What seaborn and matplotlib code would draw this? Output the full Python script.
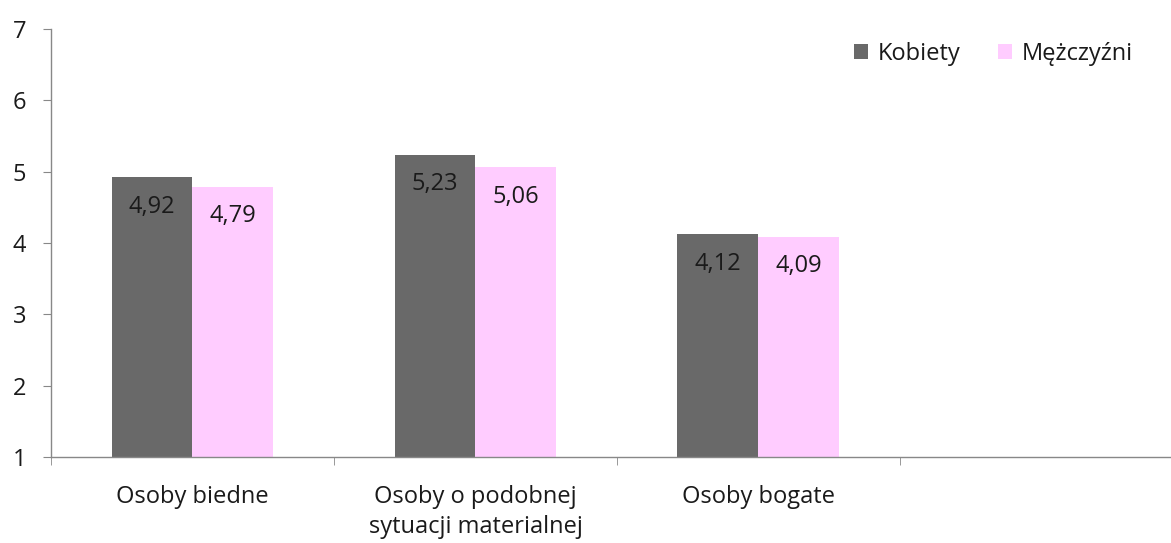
import matplotlib
matplotlib.use("Agg")
import matplotlib.pyplot as plt
import seaborn as sns
import pandas as pd

categories = ["Osoby biedne", "Osoby o podobnej\nsytuacji materialnej", "Osoby bogate"]
kobiety = [4.92, 5.23, 4.12]
mezczyzni = [4.79, 5.06, 4.09]
series_names = ["Kobiety", "Mężczyźni"]
colors = ["#696969", "#FFCCFF"]

df = pd.DataFrame({
    "kategoria": categories * 2,
    "wartosc": kobiety + mezczyzni,
    "plec": [series_names[0]] * 3 + [series_names[1]] * 3,
})

sns.set_style("white")
plt.rcParams["font.family"] = ["Open Sans", "DejaVu Sans"]
fs = 17

fig = plt.figure(figsize=(11.71, 5.43), dpi=100)
ax = fig.add_axes([51 / 1171, 86 / 543, 1 - 51 / 1171, (457 - 29) / 543])

sns.barplot(data=df, x="kategoria", y="wartosc", hue="plec", palette=colors,
            width=0.572, ax=ax, saturation=1, legend=True, linewidth=0)

ax.set_ylim(1, 7)
ax.set_yticks(range(1, 8))
ax.set_xlim(-0.5, 3.458)
ax.set_xlabel("")
ax.set_ylabel("")

for c in ax.containers:
    for patch in c:
        h = patch.get_height()
        ax.annotate(f"{h:.2f}".replace(".", ","),
                    (patch.get_x() + patch.get_width() / 2, h),
                    xytext=(0, -21), textcoords="offset points",
                    ha="center", va="center", fontsize=fs, color="#1a1a1a")

for side in ["top", "right"]:
    ax.spines[side].set_visible(False)
for side in ["left", "bottom"]:
    ax.spines[side].set_color("#888888")
    ax.spines[side].set_linewidth(1.0)

ax.tick_params(axis="y", length=6, color="#888888", labelsize=fs, pad=12, left=True,
               labelcolor="#1a1a1a")
ax.tick_params(axis="x", which="major", length=0, labelsize=fs, pad=20, labelcolor="#1a1a1a")
for lbl in ax.get_xticklabels():
    lbl.set_linespacing(1.35)
ax.set_xticks([-0.5, 0.5, 1.5, 2.5], minor=True)
ax.tick_params(axis="x", which="minor", length=6, color="#888888", bottom=True)

leg = ax.legend(loc="upper right", bbox_to_anchor=(0.985, 1.02), ncol=2, frameon=False,
                fontsize=fs, handlelength=0.6, handleheight=0.6, handletextpad=0.4,
                columnspacing=1.6)
for t in leg.get_texts():
    t.set_color("#1a1a1a")

fig.savefig("out.png", dpi=100)
